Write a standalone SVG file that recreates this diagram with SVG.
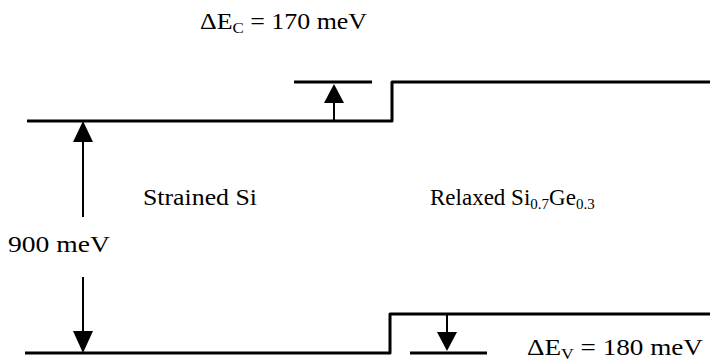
<svg xmlns="http://www.w3.org/2000/svg" width="710" height="362" viewBox="0 0 710 362">
<style>
.band{fill:none;stroke:#000;stroke-width:3;stroke-linejoin:round}
.shaft{fill:none;stroke:#000;stroke-width:2}
.head{fill:#000}
.lbl{font-family:"Liberation Serif","Times New Roman",serif;font-size:23px;fill:#000}
.sub{font-size:15px}
</style>
<rect width="710" height="362" fill="#fff"/>
<g id="bands">
<polyline class="band" points="27,121 392,121 392,82 710,82"/>
<polyline class="band" points="25,353 390,353 390,314 710,314"/>
<line class="band" x1="294" y1="82" x2="372" y2="82"/>
<line class="band" x1="410" y1="353" x2="487" y2="353"/>
</g>
<g id="connectors">
<line class="shaft" x1="83" y1="138" x2="83" y2="217"/>
<polygon class="head" points="83,121 73,142 93,142"/>
<line class="shaft" x1="83" y1="277" x2="83" y2="334"/>
<polygon class="head" points="83,353 73,331 93,331"/>
<line class="shaft" x1="334" y1="121" x2="334" y2="100"/>
<polygon class="head" points="334,84 324,103 344,103"/>
<line class="shaft" x1="447" y1="314" x2="447" y2="336"/>
<polygon class="head" points="447,351 437,332 457,332"/>
</g>
<g id="labels">
<text id="dEc" class="lbl" x="200" y="29" textLength="167" lengthAdjust="spacingAndGlyphs">ΔE<tspan class="sub" dy="4">C</tspan><tspan dy="-4"> = 170 meV</tspan></text>
<text id="strained" class="lbl" x="143" y="205" textLength="114" lengthAdjust="spacingAndGlyphs">Strained Si</text>
<text id="relaxed" class="lbl" x="430" y="205">Relaxed Si<tspan class="sub" dy="4">0.7</tspan><tspan dy="-4">Ge</tspan><tspan class="sub" dy="4">0.3</tspan></text>
<text id="gap" class="lbl" x="8" y="252" textLength="102" lengthAdjust="spacingAndGlyphs">900 meV</text>
<text id="dEv" class="lbl" x="527" y="355" textLength="176" lengthAdjust="spacingAndGlyphs">ΔE<tspan class="sub" dy="4">V</tspan><tspan dy="-4"> = 180 meV</tspan></text>
</g>
</svg>
